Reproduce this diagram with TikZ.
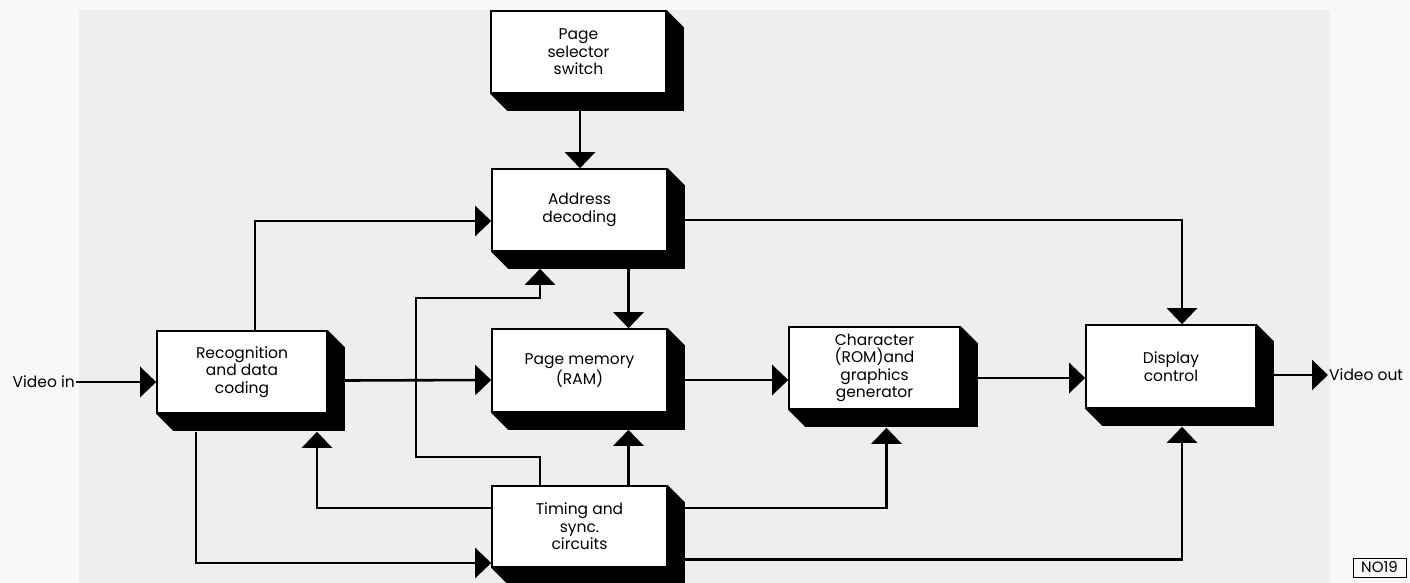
\documentclass[tikz,border=0pt]{standalone}
\usepackage{fontspec}
\setmainfont{Poppins}
\usetikzlibrary{arrows.meta,calc}
\definecolor{paper}{HTML}{F8F8F8}
\definecolor{stipple}{HTML}{EEEEEE}
\newcommand\extrude[1]{\fill (#1.north east) -- ++(17,17) -- ($(#1.south east)+(17,17)$) -- ($(#1.south west)+(17,17)$) -- (#1.south west) -- (#1.south east) -- cycle;}
\begin{document}
\begin{tikzpicture}[x=1pt,y=-1pt,
  blk/.style={draw,line width=1.6pt,fill=white,minimum width=175pt,minimum height=82pt,inner sep=0pt,align=center,font=\fontsize{15.5}{17.5}\selectfont},
  lbl/.style={inner sep=1pt,font=\fontsize{15.5}{17.5}\selectfont},
  arr/.style={line width=2.6pt,-{Triangle[length=16pt,width=30pt]}},
  tag/.style={draw,line width=1pt,inner sep=1pt,minimum width=53pt,minimum height=19pt,font=\fontsize{15}{16}\selectfont}]
\useasboundingbox (0,0) rectangle (1410,583);
\fill[paper] (0,0) rectangle (1410,583);
\fill[stipple] (79,10) rectangle (1330,583);

\node[blk] (PS) at (578.5,52) {Page\\selector\\switch};
\node[blk] (AD) at (579.5,210) {Address\\decoding};
\node[blk,minimum width=170pt] (RC) at (242,372) {Recognition\\and data\\coding};
\node[blk,minimum height=83pt] (PM) at (579.5,370.5) {Page memory\\(RAM)};
\node[blk,minimum width=171pt] (CH) at (874.5,368) {Character\\(ROM)and\\graphics\\generator};
\node[blk,minimum width=170pt,minimum height=83pt] (DC) at (1171,366.5) {Display\\control};
\node[blk,minimum height=81pt] (TM) at (579.5,526.5) {Timing and\\sync.\\circuits};
\foreach \n in {PS,AD,RC,PM,CH,DC,TM} {\extrude{\n}}

\node[lbl,anchor=east] (vin) at (76,382) {Video in};
\node[lbl,anchor=west] (vout) at (1328,375) {Video out};
\node[tag] (tag) at (1379.5,567.5) {NO19};

\coordinate (j1) at (416,457);
\coordinate (j2) at (416,298);

\draw[arr] (vin.east) -- (RC.west |- vin.east);
\draw[arr] ($(PS.south)+(1.5,17)$) -- ($(AD.north)+(0.5,0)$);
\draw[arr] ($(RC.north)+(13,0)$) |- ($(AD.west)+(0,11)$);
\draw[arr] ($(AD.east)+(17,10)$) -| ($(DC.north)+(11,0)$);
\draw[arr] ($(AD.south)+(49,17)$) -- ($(PM.north)+(49,0)$);
\draw[arr] ($(RC.east)+(17,8.5)$) -- ($(PM.west)+(0,9.5)$);
\draw[arr] ($(TM.north)+(-39.5,0)$) |- (j1) -- (j2) -| ($(AD.south)+(-39.5,17)$);
\draw[arr] ($(TM.north)+(49,0)$) -- ($(PM.south)+(49,17)$);
\draw[arr] ($(TM.west)+(0,-18.5)$) -| ($(RC.south)+(75,18)$);
\draw[arr] ($(RC.south)+(-46,18)$) |- ($(TM.west)+(0,36.5)$);
\draw[arr] ($(TM.east)+(17,-18.5)$) -| ($(CH.south)+(12,18)$);
\draw[arr] ($(TM.east)+(17,33)$) -| ($(DC.south)+(11,18)$);
\draw[arr] ($(PM.east)+(17,9.5)$) -- ($(CH.west)+(0,12)$);
\draw[arr] ($(CH.east)+(17,10)$) -- ($(DC.west)+(0,11.5)$);
\draw[arr] ($(DC.east)+(17,8.5)$) -- (vout.west);
\end{tikzpicture}
\end{document}
